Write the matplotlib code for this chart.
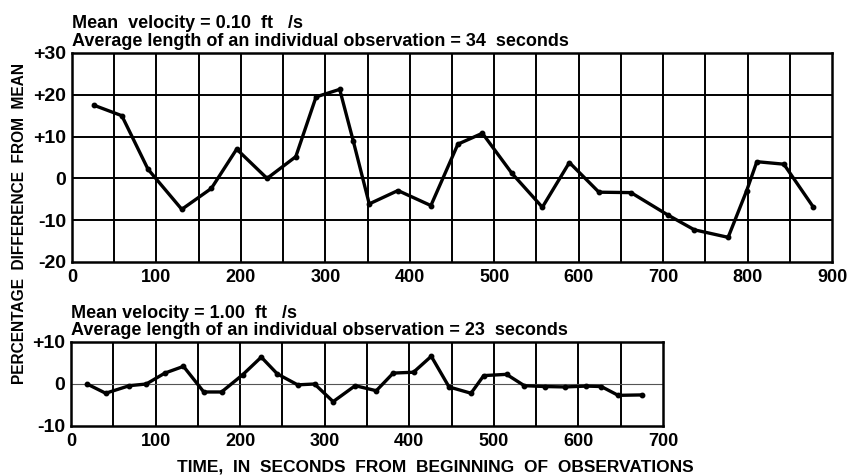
import matplotlib
matplotlib.use("Agg")
import matplotlib.pyplot as plt
import numpy as np

# ---- data ----
top_time = [26, 59, 90, 130, 165, 195, 231, 265, 289, 317, 333, 352, 386, 425,
            457, 486, 521, 557, 589, 624, 662, 706, 737, 777, 799, 811, 843, 878]
top_diff = [17.5, 15.0, 2.2, -7.4, -2.4, 7.0, 0.0, 5.2, 19.5, 21.3, 9.0, -6.1, -2.9, -6.5,
            8.2, 10.8, 1.2, -6.9, 3.8, -3.3, -3.4, -8.8, -12.3, -14.1, -2.9, 4.0, 3.4, -6.9]

bot_time = [19, 41, 69, 89, 111, 133, 157, 178, 203, 225, 244, 268, 288, 310, 336,
            361, 381, 405, 426, 447, 473, 488, 515, 536, 560, 584, 609, 627, 647, 675]
bot_diff = [0.0, -2.2, -0.4, 0.0, 2.6, 4.2, -1.9, -1.9, 2.2, 6.4, 2.4, -0.2, 0.0, -4.2, -0.4,
            -1.6, 2.6, 2.8, 6.6, -0.7, -2.2, 2.0, 2.3, -0.4, -0.6, -0.7, -0.5, -0.6, -2.7, -2.6]

top_yticks = [-20, -10, 0, 10, 20, 30]
top_ylabels = ["-20", "-10", "0", "+10", "+20", "+30"]
top_xticks = [0, 100, 200, 300, 400, 500, 600, 700, 800, 900]
bot_yticks = [-10, 0, 10]
bot_ylabels = ["-10", "0", "+10"]
bot_xticks = [0, 100, 200, 300, 400, 500, 600, 700]

top_title = ["Mean  velocity = 0.10  ft   /s",
             "Average length of an individual observation = 34  seconds"]
bot_title = ["Mean velocity = 1.00  ft   /s",
             "Average length of an individual observation = 23  seconds"]
xlabel = "TIME,  IN  SECONDS  FROM  BEGINNING  OF  OBSERVATIONS"
ylabel = "PERCENTAGE  DIFFERENCE  FROM  MEAN"

plt.rcParams['font.family'] = ["Liberation Sans", "DejaVu Sans"]
plt.rcParams['font.weight'] = 'bold'

W, H = 849, 476
fig = plt.figure(figsize=(W / 100, H / 100), dpi=100)


def px_axes(l, t, r, b):
    return fig.add_axes([l / W, 1 - b / H, (r - l) / W, (b - t) / H])


def style(ax, xmax, ymin, ymax, xticks, yticks, ylabels, grid_h_thin=False):
    ax.set_xlim(0, xmax)
    ax.set_ylim(ymin, ymax)
    for x in np.arange(50, xmax, 50):
        ax.axvline(x, color='black', lw=1.4, zorder=1)
    for y in np.arange(ymin + 10, ymax, 10):
        if grid_h_thin:
            ax.axhline(y, color='#555555', lw=0.8, zorder=1)
        else:
            ax.axhline(y, color='black', lw=1.4, zorder=1)
    for s in ax.spines.values():
        s.set_linewidth(1.8)
    ax.set_xticks(xticks)
    ax.set_xticklabels([str(v) for v in xticks], fontsize=13, fontweight='bold')
    ax.set_yticks(yticks)
    ax.set_yticklabels(ylabels, fontsize=14, fontweight='bold')
    ax.tick_params(axis='x', length=0, pad=5)
    ax.tick_params(axis='y', length=0, pad=4)


ax1 = px_axes(72, 53, 832, 262)
ax1.plot(top_time, top_diff, color='black', lw=2.4, marker='o', ms=3.2, zorder=3)
style(ax1, 900, -20, 30, top_xticks, top_yticks, top_ylabels)
ax1.text(0, 1.12, top_title[0], transform=ax1.transAxes, fontsize=13,
         fontweight='bold', va='baseline', ha='left')
ax1.text(0, 1.033, top_title[1], transform=ax1.transAxes, fontsize=13,
         fontweight='bold', va='baseline', ha='left')

ax2 = px_axes(71, 342, 663, 426)
ax2.plot(bot_time, bot_diff, color='black', lw=2.4, marker='o', ms=3.2, zorder=3)
style(ax2, 700, -10, 10, bot_xticks, bot_yticks, bot_ylabels, grid_h_thin=True)
ax2.text(0, 1.286, bot_title[0], transform=ax2.transAxes, fontsize=13,
         fontweight='bold', va='baseline', ha='left')
ax2.text(0, 1.083, bot_title[1], transform=ax2.transAxes, fontsize=13,
         fontweight='bold', va='baseline', ha='left')

fig.text(435 / W, 1 - 467 / H, xlabel, fontsize=12.5, fontweight='bold',
         ha='center', va='center')
fig.text(20 / W, 1 - 224 / H, ylabel, fontsize=11.2, fontweight='bold',
         ha='center', va='center', rotation=90)

fig.savefig("out.png", dpi=100)
